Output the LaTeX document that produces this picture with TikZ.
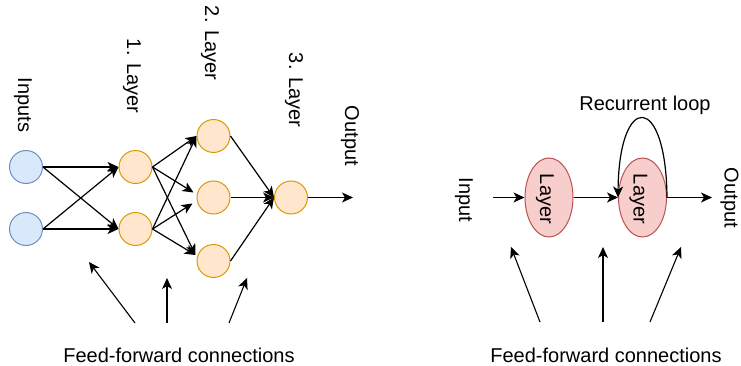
\documentclass[tikz,border=0pt]{standalone}
\usepackage{fontspec}
\setmainfont{Liberation Sans}
\usetikzlibrary{arrows.meta,calc,shapes.geometric}
\definecolor{inFill}{HTML}{DAE8FC}
\definecolor{inLine}{HTML}{6C8EBF}
\definecolor{nFill}{HTML}{FFE6CC}
\definecolor{nLine}{HTML}{D79B00}
\definecolor{lFill}{HTML}{F8CECC}
\definecolor{lLine}{HTML}{B85450}
\begin{document}
\begin{tikzpicture}[x=1pt,y=-1pt,
  every node/.style={font=\fontsize{20}{24}\selectfont},
  inneuron/.style={circle,draw=inLine,fill=inFill,line width=1pt,minimum size=33pt,inner sep=0pt},
  neuron/.style={circle,draw=nLine,fill=nFill,line width=1pt,minimum size=33pt,inner sep=0pt},
  layerell/.style={ellipse,draw=lLine,fill=lFill,line width=1pt,minimum width=48pt,minimum height=79pt,inner sep=0pt},
  vlbl/.style={rotate=-90,inner sep=0pt},
  edge/.style={draw,line width=1.2pt,-{Stealth[length=11pt,width=10pt,inset=3pt]}},
  ffarrow/.style={draw,line width=1.1pt,-{Stealth[length=11pt,width=10pt,inset=3pt]}}]
\useasboundingbox (0,0) rectangle (741,366);

% ---------- feed-forward network ----------
\node[inneuron] (I1) at (26,167) {};
\node[inneuron] (I2) at (26,229) {};
\node[neuron] (A1) at (135.5,167) {};
\node[neuron] (A2) at (135.5,229) {};
\node[neuron] (B1) at (213.5,136) {};
\node[neuron] (B2) at (213.5,197.5) {};
\node[neuron] (B3) at (213.5,261) {};
\node[neuron] (C) at (291,197.5) {};
\coordinate (outL) at (353,197.5);

\node[vlbl] (tInputs) at (23,105) {Inputs};
\node[vlbl] (tL1) at (132,76) {1. Layer};
\node[vlbl] (tL2) at (210,43) {2. Layer};
\node[vlbl] (tL3) at (294,90) {3. Layer};
\node[vlbl] (tOutL) at (350,136) {Output};

\draw[edge] (I1.east) -- (A1.west);
\draw[edge] (I1.east) -- (A2.west);
\draw[edge] (I2.east) -- (A1.west);
\draw[edge] (I2.east) -- (A2.west);

\draw[edge] (A1.east) -- (B1.west);
\draw[edge] (A1.east) -- ($(B2.west)+(-3,-5)$);
\draw[edge] (A1.east) -- ($(B3.west)+(-1,-6)$);
\draw[edge] (A2.east) -- (B1.west);
\draw[edge] (A2.east) -- ($(B2.west)+(-4,6)$);
\draw[edge] (A2.east) -- ($(B3.west)+(-1,-6)$);

\draw[edge] (B1.east) -- (C.west);
\draw[edge] (B2.east) -- (C.west);
\draw[edge] (B3.east) -- (C.west);
\draw[edge] (C.east) -- (outL);

\coordinate (f1a) at (135,323); \coordinate (f1b) at (89,262);
\coordinate (f2a) at (167,323); \coordinate (f2b) at (167,278);
\coordinate (f3a) at (229,323); \coordinate (f3b) at (247,278);
\draw[ffarrow] (f1a) -- (f1b);
\draw[ffarrow] (f2a) -- (f2b);
\draw[ffarrow] (f3a) -- (f3b);
\node (tFF1) at (179,355) {Feed-forward connections};

% ---------- recurrent network ----------
\node[vlbl] (tIn) at (464,200) {Input};
\coordinate (inR) at (493,197.5);
\node[layerell] (R1) at (549,197.5) {};
\node[layerell] (R2) at (642.5,197.5) {};
\node[vlbl] (tR1) at (545,199) {Layer};
\node[vlbl] (tR2) at (638.5,199) {Layer};
\coordinate (outR) at (712,197.5);
\node[vlbl] (tOutR) at (729.5,198) {Output};
\node (tRec) at (645,105) {Recurrent loop};

\draw[edge] (inR) -- (R1.west);
\draw[edge] (R1.east) -- (R2.west);
\draw[edge] (R2.east) -- (outR);
\draw[edge] (R2.east) .. controls (666,92) and (619,92) .. (R2.west);

\coordinate (g1a) at (540,322); \coordinate (g1b) at (511,247);
\coordinate (g2a) at (603,322); \coordinate (g2b) at (603,247);
\coordinate (g3a) at (650,322); \coordinate (g3b) at (681,247);
\draw[ffarrow] (g1a) -- (g1b);
\draw[ffarrow] (g2a) -- (g2b);
\draw[ffarrow] (g3a) -- (g3b);
\node (tFF2) at (606,355) {Feed-forward connections};
\end{tikzpicture}
\end{document}
